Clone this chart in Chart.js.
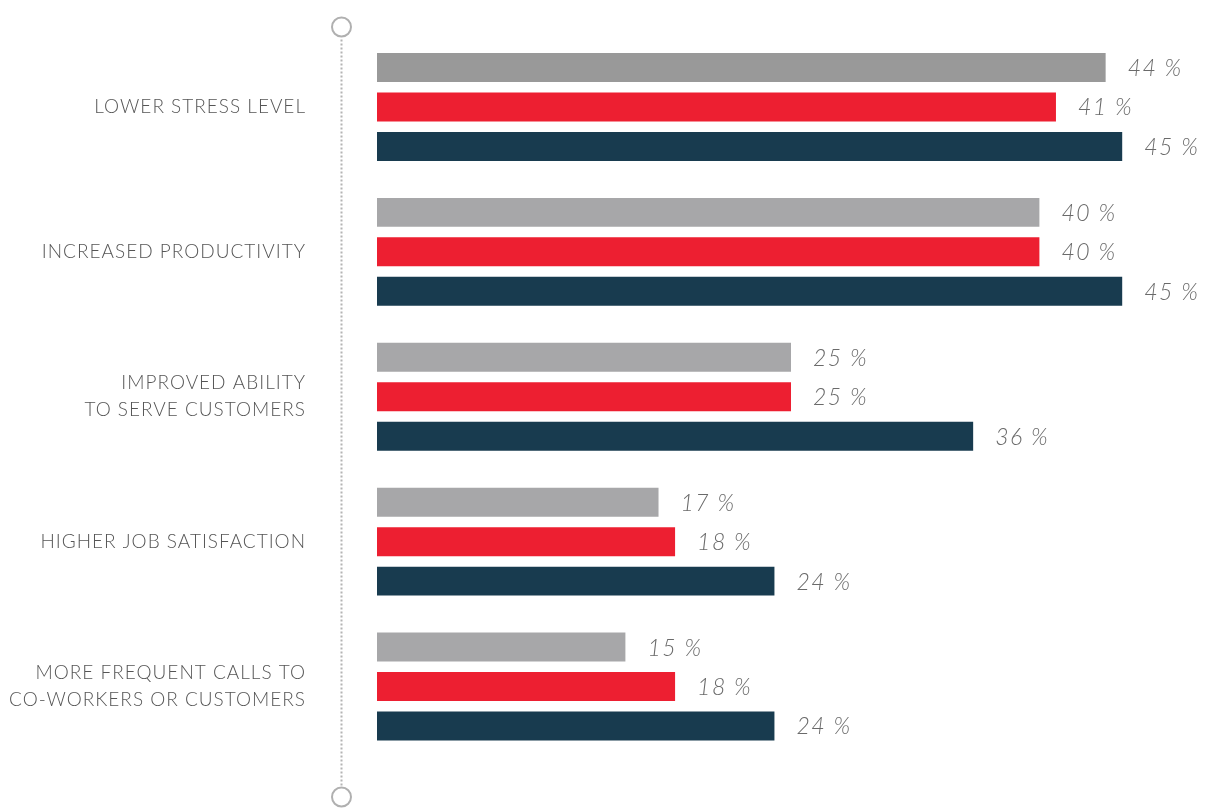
<!DOCTYPE html>
<html>
<head>
<meta charset="utf-8">
<script src="https://cdn.jsdelivr.net/npm/chart.js@4"></script>
<style>
  html, body { margin: 0; padding: 0; background: #fff; }
  #wrap { width: 1205px; height: 808px; position: relative; }
</style>
</head>
<body>
<div id="wrap"><canvas id="chart"></canvas></div>
<script>
// Categories (multi-line labels as arrays)
const categories = [
  'LOWER STRESS LEVEL',
  'INCREASED PRODUCTIVITY',
  ['IMPROVED ABILITY', 'TO SERVE CUSTOMERS'],
  'HIGHER JOB SATISFACTION',
  ['MORE FREQUENT CALLS TO', 'CO-WORKERS OR CUSTOMERS']
];

// Series values, in percent
const greyValues = [44, 40, 25, 17, 15];
const redValues = [41, 40, 25, 18, 18];
const navyValues = [45, 45, 36, 24, 24];

const greyColors = ['#999999', '#a7a7a9', '#a7a7a9', '#a7a7a9', '#a7a7a9'];

// Dotted guide line with rings at both ends, left of the bars;
// also widens the letter spacing used by the category labels
const guideLine = {
  id: 'guideLine',
  beforeDraw(chart) {
    const ctx = chart.ctx;
    const x = 341.5;
    const top = 27, bottom = 797, r = 9.5;
    ctx.save();
    ctx.fillStyle = '#b4b4b4';
    for (let y = top + r + 3; y < bottom - r - 2; y += 4) {
      ctx.fillRect(x - 1, y, 2, 2);
    }
    ctx.strokeStyle = '#b0b0b0';
    ctx.lineWidth = 2;
    [top, bottom].forEach(cy => {
      ctx.beginPath();
      ctx.arc(x, cy, r, 0, Math.PI * 2);
      ctx.stroke();
    });
    ctx.restore();
    ctx.letterSpacing = '1px';
  },
  afterDraw(chart) {
    chart.ctx.letterSpacing = '0px';
  }
};

// Value labels after each bar
const valueLabels = {
  id: 'valueLabels',
  afterDatasetsDraw(chart) {
    const ctx = chart.ctx;
    ctx.save();
    ctx.font = 'italic 300 23px Lato, "Open Sans", sans-serif';
    ctx.letterSpacing = '1.5px';
    ctx.fillStyle = '#6a6a6a';
    ctx.textAlign = 'left';
    ctx.textBaseline = 'middle';
    chart.data.datasets.forEach((ds, i) => {
      chart.getDatasetMeta(i).data.forEach((bar, j) => {
        ctx.fillText(ds.data[j] + ' %', bar.x + 22, bar.y + 1);
      });
    });
    ctx.restore();
  }
};

new Chart(document.getElementById('chart'), {
  type: 'bar',
  data: {
    labels: categories,
    datasets: [
      { label: 'A', data: greyValues, backgroundColor: greyColors },
      { label: 'B', data: redValues, backgroundColor: '#ed1f31' },
      { label: 'C', data: navyValues, backgroundColor: '#183b4f' }
    ]
  },
  options: {
    indexAxis: 'y',
    responsive: true,
    maintainAspectRatio: false,
    animation: false,
    layout: { padding: { top: 34.5, bottom: 49, left: 0, right: 0 } },
    datasets: {
      bar: { categoryPercentage: 0.817, barPercentage: 0.734 }
    },
    plugins: {
      legend: { display: false },
      tooltip: { enabled: false }
    },
    scales: {
      x: {
        display: false,
        min: 0,
        max: 50
      },
      y: {
        grid: { display: false, drawTicks: false },
        border: { display: false },
        afterFit(scale) {
          // fixed label column; drop the vertical padding the tick gap adds
          scale.width = 377;
          scale.paddingTop = 0;
          scale.paddingBottom = 0;
        },
        ticks: {
          padding: 71,
          color: '#555555',
          font: { family: 'Lato, "Open Sans", sans-serif', size: 19, weight: 300, lineHeight: 1.42 }
        }
      }
    }
  },
  plugins: [guideLine, valueLabels]
});
</script>
</body>
</html>
